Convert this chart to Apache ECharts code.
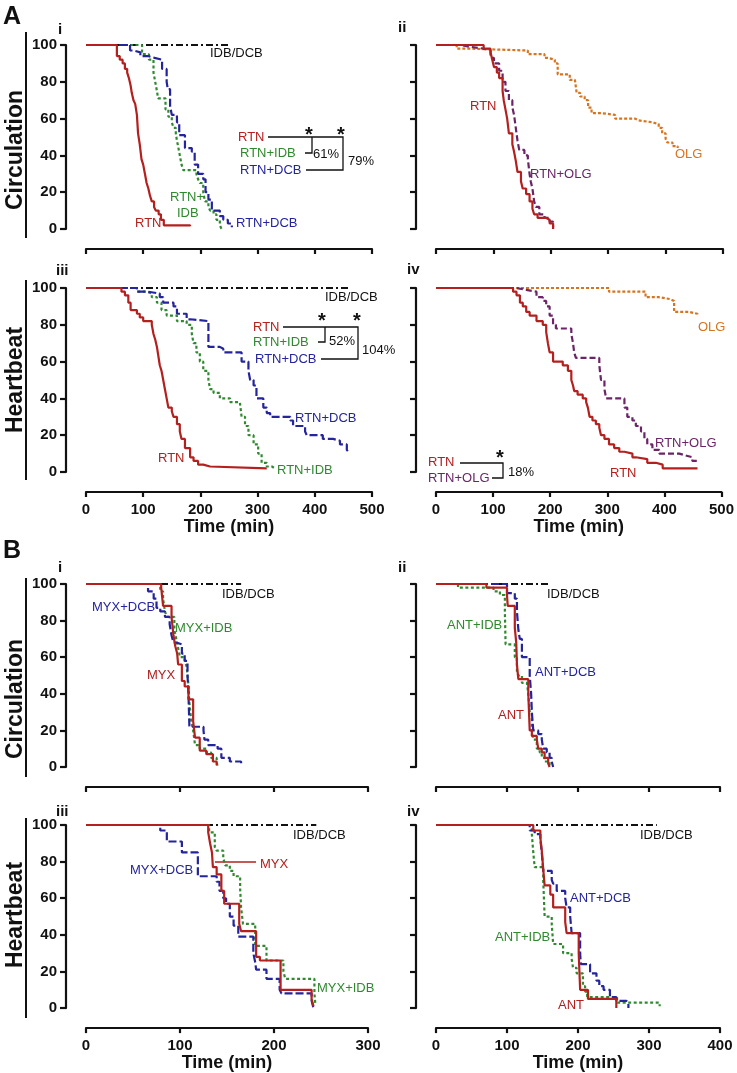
<!DOCTYPE html>
<html><head><meta charset="utf-8">
<script src="https://cdn.jsdelivr.net/npm/echarts@6/dist/echarts.min.js"></script>
<style>html,body{margin:0;padding:0;background:#fff}#c{width:737px;height:1073px}</style>
</head><body><div id="c"></div>
<script>
// ---------------- DATA (time in min, % surviving) ----------------
const yTicks = [0, 20, 40, 60, 80, 100];
const xTicksA = [0, 100, 200, 300, 400, 500];
const xTicksBL = [0, 100, 200, 300];
const xTicksBR = [0, 100, 200, 300, 400];

// A-i Circulation
const Ai_IDB_DCB = [[0,100],[252,100]];
const Ai_RTN = [[0,100],[54,94],[59,92],[64,90],[68,87],[72,85],[75,82],[78,78],[80,74],[83,70],[86,68],[89,62],[91,52],[94,46],[97,38],[100,35],[103,30],[106,25],[109,22],[112,18],[115,15],[119,12],[122,10],[127,8],[131,5],[136,2],[182,1.5]];
const Ai_RTN_IDB = [[0,100],[98,95],[110,92],[118,85],[121,80],[124,75],[126,71],[139,65],[144,61],[150,58],[153,55],[157,52],[159,48],[161,45],[164,40],[167,35],[170,32],[193,30],[196,27],[199,25],[205,20],[208,15],[214,12],[217,10],[223,8],[228,5],[234,2],[237,0]];
const Ai_RTN_DCB = [[0,100],[77,97],[83,96],[95,94],[108,93],[120,92],[133,87],[141,80],[143,76],[147,67],[150,62],[159,58],[163,51],[173,44],[185,42],[190,35],[196,30],[205,27],[209,20],[214,16],[220,10],[234,7],[240,5],[248,3],[255,1]];

// A-ii Circulation
const Aii_RTN = [[0,100],[83,98],[95,96],[98,92],[101,88],[106,85],[110,82],[116,75],[118,70],[121,65],[124,60],[127,52],[133,46],[136,42],[139,37],[142,31],[148,26],[151,22],[157,19],[163,15],[168,11],[171,8],[177,6],[192,5],[198,3],[204,0]];
const Aii_RTN_OLG = [[0,100],[42,99],[60,98],[83,97],[95,93],[101,90],[110,86],[116,80],[121,75],[127,70],[133,66],[136,62],[139,55],[142,48],[145,43],[154,40],[160,38],[163,30],[165,26],[168,22],[171,15],[174,12],[180,8],[189,6],[198,4],[204,1]];
const Aii_OLG = [[0,100],[36,98],[60,97],[160,95],[189,93],[195,92],[207,90],[212,84],[233,81],[242,80],[245,74],[251,72],[259,70],[265,66],[271,63],[288,62],[312,60],[347,59],[353,58],[377,57],[388,55],[394,52],[400,49],[403,47],[412,45],[421,44]];

// A-iii Heartbeat
const Aiii_IDB_DCB = [[0,100],[459,100]];
const Aiii_RTN = [[0,100],[62,98],[68,96],[74,92],[78,88],[89,86],[94,84],[100,82],[115,80],[118,75],[121,72],[124,68],[126,64],[129,58],[132,55],[135,50],[138,45],[141,40],[144,35],[150,33],[153,30],[159,26],[164,22],[167,18],[173,13],[182,8],[188,6],[196,4],[205,3],[217,2],[316,2]];
const Aiii_RTN_IDB = [[0,100],[89,98],[106,97],[115,95],[124,92],[132,88],[141,85],[159,82],[176,80],[185,75],[188,70],[193,65],[199,60],[205,55],[214,50],[217,45],[223,43],[234,40],[252,38],[269,37],[272,30],[278,25],[284,20],[293,15],[301,10],[307,5],[316,3],[325,2],[330,2]];
const Aiii_RTN_DCB = [[0,100],[89,98],[108,97],[129,95],[135,92],[153,90],[159,86],[176,83],[182,82],[214,68],[234,67],[240,65],[272,60],[284,55],[287,50],[293,47],[298,40],[310,35],[316,32],[322,30],[357,28],[362,25],[383,22],[386,20],[414,18],[432,17],[444,15],[456,12],[459,11]];

// A-iv Heartbeat
const Aiv_RTN = [[0,100],[135,98],[141,96],[147,92],[152,90],[158,87],[164,85],[176,82],[187,80],[193,76],[196,70],[199,65],[205,60],[222,58],[231,55],[237,50],[240,47],[242,44],[248,42],[257,40],[263,38],[266,35],[269,30],[274,28],[280,26],[286,24],[289,20],[295,18],[303,15],[312,13],[321,11],[330,10],[344,8],[350,7],[370,5],[385,4],[397,2],[458,2]];
const Aiv_RTN_OLG = [[0,100],[141,99],[158,98],[176,95],[187,93],[193,90],[199,85],[205,80],[210,78],[237,75],[240,70],[242,65],[245,62],[286,58],[289,50],[295,45],[298,40],[330,35],[335,30],[344,28],[350,25],[359,22],[365,18],[370,15],[379,12],[391,10],[426,9],[437,8],[449,6],[458,5]];
const Aiv_OLG = [[0,100],[303,98],[367,95],[390,94],[410,93],[417,87],[443,86],[458,85]];

// B-i Circulation
const Bi_IDB_DCB = [[0,100],[165,100]];
const Bi_MYX = [[0,100],[80,98],[82,88],[91,82],[93,72],[95,66],[97,62],[98,56],[102,47],[105,44],[109,37],[114,25],[116,16],[121,9],[128,7],[135,3],[139,1]];
const Bi_MYX_IDB = [[0,100],[79,96],[82,92],[84,85],[86,82],[94,75],[96,70],[98,65],[100,60],[105,58],[107,55],[109,45],[110,35],[112,25],[114,20],[116,12],[121,10],[128,8],[133,5],[139,3],[140,0]];
const Bi_MYX_DCB = [[0,100],[66,96],[72,92],[75,87],[79,85],[84,82],[89,78],[91,72],[93,68],[96,67],[102,62],[105,58],[108,50],[109,40],[110,22],[125,20],[126,15],[130,12],[140,10],[144,5],[153,3],[165,2]];

// B-ii Circulation
const Bii_IDB_DCB = [[0,100],[160,100]];
const Bii_ANT = [[0,100],[71,98],[100,94],[101,88],[111,76],[113,68],[114,56],[116,48],[130,40],[131,30],[132,20],[135,17],[142,15],[144,10],[149,8],[153,5],[158,2],[160,0]];
const Bii_ANT_IDB = [[0,100],[31,98],[81,96],[90,94],[97,85],[98,67],[111,60],[114,52],[116,50],[121,46],[128,45],[130,40],[132,30],[135,20],[137,15],[142,10],[146,8],[149,5],[153,3],[160,0]];
const Bii_ANT_DCB = [[0,100],[100,95],[111,92],[114,85],[116,75],[118,70],[121,60],[132,50],[134,40],[135,30],[137,20],[144,18],[149,15],[151,10],[156,8],[160,5],[163,3],[165,0]];

// B-iii Heartbeat
const Biii_IDB_DCB = [[0,100],[245,100]];
const Biii_MYX = [[0,100],[130,96],[132,90],[134,85],[135,77],[139,73],[144,64],[147,57],[163,46],[165,42],[181,28],[185,26],[207,10],[240,5],[242,1]];
const Biii_MYX_IDB = [[0,100],[131,96],[137,88],[139,86],[146,82],[148,78],[153,75],[157,72],[164,65],[165,55],[167,46],[180,34],[192,26],[210,20],[212,16],[243,8],[244,2]];
const Biii_MYX_DCB = [[0,100],[79,97],[86,91],[102,85],[119,72],[139,69],[142,64],[146,60],[149,57],[153,50],[157,45],[162,39],[178,30],[180,25],[181,21],[192,16],[206,10],[208,8],[240,4],[242,0]];

// B-iv Heartbeat
const Biv_IDB_DCB = [[0,100],[311,100]];
const Biv_ANT = [[0,100],[137,97],[147,93],[149,86],[151,76],[153,67],[161,62],[165,55],[182,47],[184,41],[201,30],[202,20],[203,10],[214,5],[254,0]];
const Biv_ANT_IDB = [[0,100],[135,95],[137,85],[139,77],[151,70],[153,50],[163,46],[165,35],[179,30],[191,27],[193,22],[198,19],[207,12],[210,9],[213,6],[255,3],[315,1]];
const Biv_ANT_DCB = [[0,100],[132,97],[139,95],[147,92],[149,85],[151,75],[163,70],[165,68],[170,64],[182,60],[184,55],[189,50],[191,41],[203,30],[204,24],[217,19],[226,15],[230,12],[236,10],[245,6],[254,4],[268,3],[271,0]];

// ---------------- STYLE ----------------
const FONT = '"Liberation Sans", Arial, Helvetica, sans-serif';
const C = {red:'#b3201e', green:'#2f8a2f', blue:'#24249c', purple:'#6b2466', orange:'#d8731e', black:'#111111'};
const ST = {
  IDB:{color:C.black, dash:[7,3,2,3]},
  RTN:{color:C.red, dash:'solid'},
  GRN:{color:C.green, dash:[3,2.5]},
  BLU:{color:C.blue, dash:[8,3]},
  PUR:{color:C.purple, dash:[6,3]},
  ORG:{color:C.orange, dash:[3,2]}
};

const panels = [
  {l:86, t:45, w:286, h:184, max:500, yl:true, xl:false, s:[[Ai_IDB_DCB,'IDB'],[Ai_RTN_IDB,'GRN'],[Ai_RTN_DCB,'BLU'],[Ai_RTN,'RTN']]},
  {l:436, t:45, w:287, h:184, max:500, yl:false, xl:false, s:[[Aii_OLG,'ORG'],[Aii_RTN_OLG,'PUR'],[Aii_RTN,'RTN']]},
  {l:86, t:288, w:286, h:184, max:500, yl:true, xl:true, gap:19, s:[[Aiii_IDB_DCB,'IDB'],[Aiii_RTN_IDB,'GRN'],[Aiii_RTN_DCB,'BLU'],[Aiii_RTN,'RTN']]},
  {l:436, t:288, w:287, h:184, max:500, yl:false, xl:true, gap:19, s:[[Aiv_OLG,'ORG'],[Aiv_RTN_OLG,'PUR'],[Aiv_RTN,'RTN']]},
  {l:86, t:584, w:282, h:183, max:300, yl:true, xl:false, s:[[Bi_IDB_DCB,'IDB'],[Bi_MYX_IDB,'GRN'],[Bi_MYX_DCB,'BLU'],[Bi_MYX,'RTN']]},
  {l:436, t:584, w:284, h:183, max:400, yl:false, xl:false, s:[[Bii_IDB_DCB,'IDB'],[Bii_ANT_IDB,'GRN'],[Bii_ANT_DCB,'BLU'],[Bii_ANT,'RTN']]},
  {l:86, t:825, w:282, h:184, max:300, yl:true, xl:true, gap:23, s:[[Biii_IDB_DCB,'IDB'],[Biii_MYX_IDB,'GRN'],[Biii_MYX_DCB,'BLU'],[Biii_MYX,'RTN']]},
  {l:436, t:825, w:284, h:184, max:400, yl:false, xl:true, gap:23, s:[[Biv_IDB_DCB,'IDB'],[Biv_ANT_IDB,'GRN'],[Biv_ANT_DCB,'BLU'],[Biv_ANT,'RTN']]}
];

const grid=[], xAxis=[], yAxis=[], series=[];
panels.forEach((p,i)=>{
  grid.push({left:p.l, top:p.t, width:p.w, height:p.h});
  xAxis.push({gridIndex:i, type:'value', min:0, max:p.max, interval:100, offset:20,
    axisLine:{show:true, onZero:false, lineStyle:{color:'#111', width:2.2}},
    axisTick:{show:true, length:5, lineStyle:{color:'#111', width:2.2}},
    axisLabel:{show:p.xl, margin:10, color:'#111', fontSize:15, fontWeight:'bold', fontFamily:FONT},
    splitLine:{show:false},
    name:p.xl?'Time (min)':'', nameLocation:'middle', nameGap:p.gap||20,
    nameTextStyle:{color:'#111', fontSize:18, fontWeight:'bold', fontFamily:FONT}});
  yAxis.push({gridIndex:i, type:'value', min:0, max:100, interval:20, offset:20,
    axisLine:{show:true, onZero:false, lineStyle:{color:'#111', width:2.2}},
    axisTick:{show:true, length:6, lineStyle:{color:'#111', width:2.2}},
    axisLabel:{show:p.yl, margin:9, color:'#111', fontSize:15, fontWeight:'bold', fontFamily:FONT},
    splitLine:{show:false}});
  p.s.forEach(([d,k])=>{
    series.push({type:'line', xAxisIndex:i, yAxisIndex:i, data:d, step:'end', symbol:'none', silent:true,
      lineStyle:{color:ST[k].color, width:2.2, type:ST[k].dash}});
  });
});

// ---------------- ANNOTATIONS ----------------
const g = [];
function T(x,y,s,color,size,weight){ g.push({type:'text', x:x, y:y, silent:true,
  style:{text:s, fill:color, font:(weight||'normal')+' '+(size||13)+'px '+FONT, align:'left', verticalAlign:'middle'}}); }
function L(pts,color,w){ g.push({type:'polyline', silent:true, shape:{points:pts}, style:{stroke:color||'#111', lineWidth:w||1.3, fill:null}}); }
function R(x,y,s){ g.push({type:'text', x:x, y:y, rotation:Math.PI/2, silent:true,
  style:{text:s, fill:'#111', font:'bold 23px '+FONT, align:'center', verticalAlign:'middle'}}); }

// panel letters
T(3,17,'A','#111',25,'bold'); T(3,551,'B','#111',25,'bold');
T(58,30,'i','#111',15,'bold'); T(398,28,'ii','#111',15,'bold');
T(56,271,'iii','#111',15,'bold'); T(407,270,'iv','#111',15,'bold');
T(58,568,'i','#111',15,'bold'); T(398,568,'ii','#111',15,'bold');
T(56,812,'iii','#111',15,'bold'); T(407,812,'iv','#111',15,'bold');
// y-axis titles and bars
R(16,150,'Circulation'); R(16,380,'Heartbeat'); R(16,699,'Circulation'); R(16,915,'Heartbeat');
L([[26,32],[26,238]],'#111',2); L([[26,280],[26,480]],'#111',2);
L([[26,578],[26,777]],'#111',2); L([[26,818],[26,1018]],'#111',2);

// A-i
T(210,53,'IDB/DCB',C.black); T(135,223,'RTN',C.red); T(170,197,'RTN+',C.green); T(177,213,'IDB',C.green);
T(236,223,'RTN+DCB',C.blue);
T(238,137,'RTN',C.red); T(240,153,'RTN+IDB',C.green); T(240,170,'RTN+DCB',C.blue);
L([[268,137],[343,137],[343,170],[306,170]]); L([[312,137],[312,153],[305,153]]);
T(313,154,'61%','#111'); T(348,161,'79%','#111');
T(305,135,'*','#111',20,'bold'); T(337,135,'*','#111',20,'bold');
// A-ii
T(470,106,'RTN',C.red); T(530,174,'RTN+OLG',C.purple); T(675,154,'OLG',C.orange);
// A-iii
T(325,297,'IDB/DCB',C.black); T(158,458,'RTN',C.red); T(277,470,'RTN+IDB',C.green); T(295,418,'RTN+DCB',C.blue);
T(253,327,'RTN',C.red); T(253,342,'RTN+IDB',C.green); T(255,359,'RTN+DCB',C.blue);
L([[283,327],[358,327],[358,359],[321,359]]); L([[325,327],[325,342],[318,342]]);
T(329,341,'52%','#111'); T(362,350,'104%','#111');
T(318,321,'*','#111',20,'bold'); T(353,321,'*','#111',20,'bold');
// A-iv
T(698,327,'OLG',C.orange); T(655,443,'RTN+OLG',C.purple); T(610,473,'RTN',C.red);
T(428,462,'RTN',C.red); T(428,478,'RTN+OLG',C.purple);
L([[460,463],[503,463],[503,478],[492,478]]);
T(496,458,'*','#111',20,'bold'); T(508,472,'18%','#111');
// B-i
T(222,594,'IDB/DCB',C.black); T(92,607,'MYX+DCB',C.blue); T(175,628,'MYX+IDB',C.green); T(147,675,'MYX',C.red);
// B-ii
T(547,594,'IDB/DCB',C.black); T(447,625,'ANT+IDB',C.green); T(535,672,'ANT+DCB',C.blue); T(498,715,'ANT',C.red);
// B-iii
T(293,835,'IDB/DCB',C.black); T(130,870,'MYX+DCB',C.blue); T(260,864,'MYX',C.red); T(317,988,'MYX+IDB',C.green);
L([[215,862],[256,862]],C.red,1.5);
// B-iv
T(640,835,'IDB/DCB',C.black); T(570,898,'ANT+DCB',C.blue); T(495,937,'ANT+IDB',C.green); T(558,1005,'ANT',C.red);

const chart = echarts.init(document.getElementById('c'), null, {renderer:'canvas'});
chart.setOption({backgroundColor:'#fff', animation:false, grid, xAxis, yAxis, series, graphic:g});
</script></body></html>
